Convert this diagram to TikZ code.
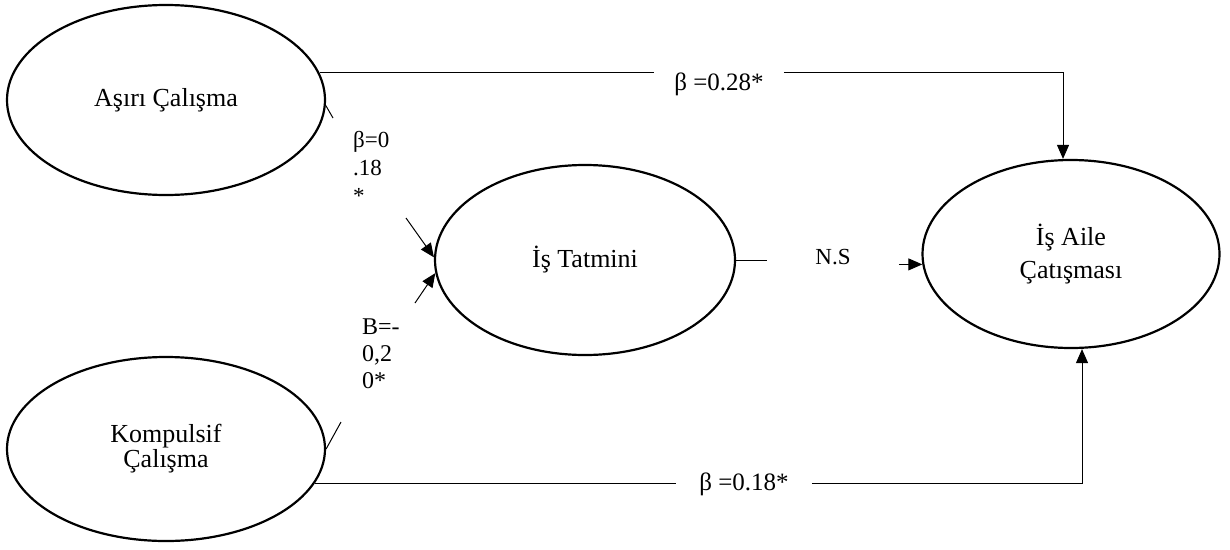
\documentclass[tikz,border=0pt]{standalone}
\usepackage{fontspec}
\setmainfont{Liberation Serif}
\usepackage{tikz}
\usetikzlibrary{shapes,arrows.meta,positioning,calc}

\begin{document}
\begin{tikzpicture}[x=1pt,y=-1pt,
    latent/.style={ellipse, draw, line width=2.2pt, inner sep=0pt, align=center, font=\fontsize{26}{27}\selectfont},
    conn/.style={line width=1pt},
    arr/.style={conn, -{Triangle[length=14pt,width=12pt]}},
    coef/.style={inner ysep=0pt, inner xsep=20pt, font=\fontsize{25}{27}\selectfont},
    coefblock/.style={inner sep=0pt, align=left, font=\fontsize{23}{28}\selectfont}]
    \useasboundingbox (0,0) rectangle (1230,549);
    \node[latent, minimum width=318pt, minimum height=190pt] (asiri) at (166,100) {Aşırı Çalışma};
    \node[latent, minimum width=318pt, minimum height=184pt] (komp) at (166,449) {Kompulsif\\[-2pt]Çalışma};
    \node[latent, minimum width=300pt, minimum height=190pt] (iste) at (585,260) {İş Tatmini};
    \node[latent, minimum width=297pt, minimum height=188pt, font=\fontsize{26}{33}\selectfont] (iaile) at (1071,254) {İş Aile\\Çatışması};
    \node[coef, anchor=base] (b028) at (719,90) {β =0.28*};
    \node[coef, anchor=base, inner xsep=23pt] (b018) at (744,490) {β =0.18*};
    \node[coef, anchor=base, inner xsep=48pt, font=\fontsize{23}{27}\selectfont] (ns) at (833,264) {N.S};
    \node[coefblock, anchor=base west] (b1) at (353,203) {β=0\\.18\\*};
    \node[coefblock, anchor=base west, font=\fontsize{24}{27}\selectfont] (b2) at (362,388) {B=-\\0,2\\0*};
    \coordinate (c1) at (1063,0);
    \coordinate (c2) at (1082,0);
    \coordinate (s1) at (333,118);
    \coordinate (s2) at (341,422);
    \coordinate (t1) at (406,218);
    \coordinate (t2) at (415,303);
    \draw[conn] (asiri.10) -- (asiri.10 -| b028.west);
    \draw[arr] (asiri.10 -| b028.east) -- (asiri.10 -| c1) -- (c1 |- iaile.north);
    \draw[conn] (komp.-13) -- (komp.-13 -| b018.west);
    \draw[arr] (komp.-13 -| b018.east) -- (komp.-13 -| c2) -- (c2 |- iaile.south);
    \draw[conn] (iste.east) -- (iste.east -| ns.west);
    \draw[arr] (ns.east |- iaile.184) -- (iaile.184);
    \draw[conn] (asiri.-2) -- (s1);
    \draw[conn] (komp.east) -- (s2);
    \draw[arr] (t1) -- (iste.179);
    \draw[arr] (t2) -- (iste.185);
\end{tikzpicture}
\end{document}
